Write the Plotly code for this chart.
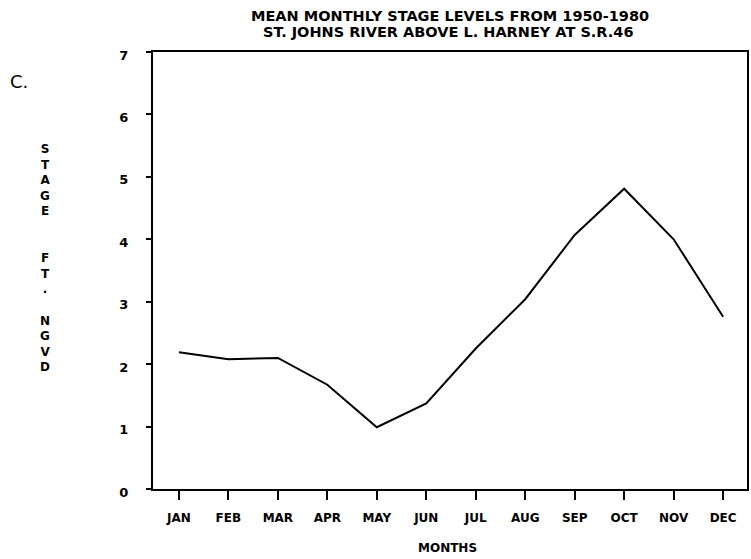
import plotly.graph_objects as go

months = ["JAN", "FEB", "MAR", "APR", "MAY", "JUN", "JUL", "AUG", "SEP", "OCT", "NOV", "DEC"]
stage = [2.19, 2.08, 2.10, 1.67, 0.99, 1.37, 2.25, 3.04, 4.07, 4.81, 4.00, 2.76]
y_ticks = [0, 1, 2, 3, 4, 5, 6, 7]
title_lines = ["MEAN MONTHLY STAGE LEVELS FROM 1950-1980",
               "ST. JOHNS RIVER ABOVE L. HARNEY AT S.R.46"]
ylabel_chars = ["S", "T", "A", "G", "E", "", "", "F", "T", ".", "", "N", "G", "V", "D"]

x_idx = list(range(len(months)))

FONT = "DejaVu Sans"

fig = go.Figure()
fig.add_trace(go.Scatter(x=x_idx, y=stage, mode="lines",
                         line=dict(color="black", width=2), showlegend=False,
                         hoverinfo="skip"))

fig.update_layout(
    width=751, height=559,
    margin=dict(l=153, r=2, t=52, b=70),
    paper_bgcolor="white", plot_bgcolor="white",
    font=dict(family=FONT, color="black", weight="bold"),
    xaxis=dict(range=[-0.524, 11.483], tickmode="array", tickvals=x_idx, ticktext=months,
               showgrid=False, zeroline=False, showline=True, mirror=True,
               linecolor="black", linewidth=2, ticks="outside", ticklen=9,
               tickwidth=1.5, tickcolor="black", ticklabelstandoff=8,
               tickfont=dict(size=12, family=FONT, weight="bold")),
    yaxis=dict(range=[0, 7], tickmode="array", tickvals=y_ticks,
               ticktext=[str(v) for v in y_ticks],
               showgrid=False, zeroline=False, showline=True, mirror=True,
               linecolor="black", linewidth=2, ticks="outside", ticklen=5,
               tickwidth=1.5, tickcolor="black", ticklabelstandoff=15,
               ticklabelshift=3,
               tickfont=dict(size=13, family=FONT, weight="bold")),
)

annos = [
    dict(text=title_lines[0], x=0.5, y=1.0824, size=14.5),
    dict(text=title_lines[1], x=0.4966, y=1.0458, size=14.5),
    dict(text="MONTHS", x=0.4966, y=-0.135, size=12),
]
for a in annos:
    fig.add_annotation(text=a["text"], x=a["x"], y=a["y"], xref="paper", yref="paper",
                       xanchor="center", yanchor="middle", showarrow=False,
                       font=dict(size=a["size"], family=FONT, color="black", weight="bold"))

fig.add_annotation(text="<br>".join(ylabel_chars), x=-0.1812, y=0.5275,
                   xref="paper", yref="paper", xanchor="center", yanchor="middle",
                   showarrow=False, align="center",
                   font=dict(size=12, family=FONT, color="black", weight="bold"))

fig.add_annotation(text="C.", x=-0.2433, y=0.9314, xref="paper", yref="paper",
                   xanchor="left", yanchor="middle", showarrow=False,
                   font=dict(size=18, family=FONT, color="black", weight="normal"))

fig.write_html("out.html")
